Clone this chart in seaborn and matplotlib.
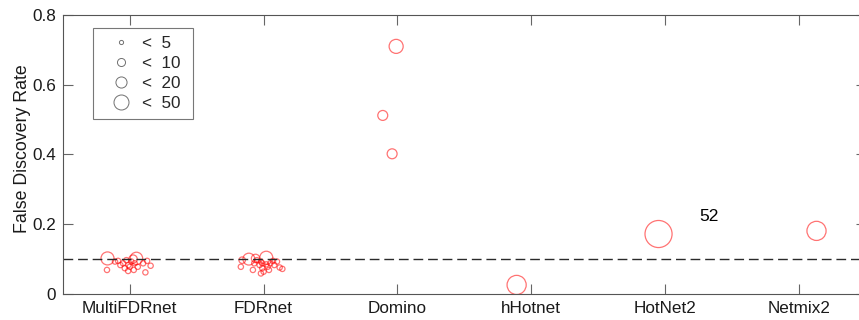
import numpy as np
import pandas as pd
import matplotlib
matplotlib.use("Agg")
import matplotlib.pyplot as plt
from matplotlib.lines import Line2D
import seaborn as sns

# Methods on the x axis
methods = ["MultiFDRnet", "FDRnet", "Domino", "hHotnet", "HotNet2", "Netmix2"]

# One entry per detected module: horizontal jitter, FDR, module size
multi_fdr = [0.102, 0.102, 0.100, 0.069, 0.093, 0.083, 0.097, 0.074, 0.066, 0.078,
             0.093, 0.078, 0.088, 0.095, 0.081, 0.062, 0.088, 0.095, 0.069, 0.083, 0.088]
multi_jit = [-0.166, 0.05, 0.025, -0.17, -0.11, -0.07, -0.025, -0.037, -0.012, 0.0,
             0.012, 0.06, 0.10, 0.13, 0.156, 0.117, -0.05, -0.087, 0.03, -0.01, 0.037]
multi_n = [12, 11, 5, 2, 2, 2, 2, 2, 2, 2, 2, 2, 2, 2, 2, 2, 2, 2, 2, 2, 2]

fdrnet_fdr = [0.104, 0.100, 0.102, 0.097, 0.078, 0.069, 0.083, 0.074, 0.064, 0.078, 0.088,
              0.083, 0.093, 0.076, 0.072, 0.093, 0.097, 0.095, 0.085, 0.069, 0.088, 0.088, 0.059]
fdrnet_jit = [0.02, -0.11, -0.06, -0.16, -0.17, -0.08, -0.03, -0.01, 0.0, 0.03, 0.05,
              0.08, 0.10, 0.12, 0.14, -0.02, -0.05, 0.07, 0.02, 0.04, -0.01, -0.07, -0.02]
fdrnet_n = [12, 10, 5, 3, 2, 2, 2, 2, 2, 2, 2, 2, 2, 2, 2, 2, 2, 2, 2, 2, 2, 2, 2]

domino_fdr = [0.710, 0.512, 0.402]
domino_jit = [-0.01, -0.11, -0.04]
domino_n = [14, 7, 7]

hhotnet_fdr = [0.026]
hhotnet_jit = [-0.11]
hhotnet_n = [26]

hotnet2_fdr = [0.172]
hotnet2_jit = [-0.05]
hotnet2_n = [52]

netmix2_fdr = [0.181]
netmix2_jit = [0.13]
netmix2_n = [26]

fdr_threshold = 0.1
size_bins = [5, 10, 20, 50]
ytick_vals = [0, 0.2, 0.4, 0.6, 0.8]
ytick_labels = ["0", "0.2", "0.4", "0.6", "0.8"]

groups = [
    (multi_jit, multi_fdr, multi_n),
    (fdrnet_jit, fdrnet_fdr, fdrnet_n),
    (domino_jit, domino_fdr, domino_n),
    (hhotnet_jit, hhotnet_fdr, hhotnet_n),
    (hotnet2_jit, hotnet2_fdr, hotnet2_n),
    (netmix2_jit, netmix2_fdr, netmix2_n),
]
rows = []
for i, (jit, fdr, n) in enumerate(groups):
    for j, f, s in zip(jit, fdr, n):
        rows.append({"pos": i + 1 + j, "fdr": f, "n": s})
df = pd.DataFrame(rows)

sns.set_style("ticks")
plt.rcParams["font.family"] = ["Liberation Sans", "DejaVu Sans"]

fig = plt.figure(figsize=(8.59, 3.20), dpi=100)
ax = fig.add_axes([0.0731, 0.08125, 0.9351, 0.8719])

sns.scatterplot(data=df, x="pos", y="fdr", size="n", sizes=(0, 380),
                size_norm=(0, 52), legend=False, ax=ax,
                marker="o", facecolors="none", edgecolor=(1, 0, 0, 0.55),
                linewidth=0.9)

ax.axhline(fdr_threshold, color="#2a2a2a", linestyle=(0, (7, 3.5)), linewidth=1.0, zorder=1)

# Annotate the large HotNet2 module with its size
ax.text(5 + 0.33, 0.222, str(hotnet2_n[0]), fontsize=12.5, ha="center", va="center",
        color="black")

ax.set_xlim(0.5, 6.5)
ax.set_ylim(0, 0.8)
ax.set_xticks(range(1, len(methods) + 1))
ax.set_xticklabels(methods, fontsize=12.3, color="#1a1a1a")
ax.set_yticks(ytick_vals)
ax.set_yticklabels(ytick_labels, fontsize=12.3, color="#1a1a1a")
ax.set_xlabel("")
ax.set_ylabel("False Discovery Rate", fontsize=12.8, color="#1a1a1a")
ax.yaxis.set_label_coords(-0.039, 0.52)

for sp in ax.spines.values():
    sp.set_visible(True)
    sp.set_color("#555555")
    sp.set_linewidth(0.8)
ax.tick_params(direction="in", length=7, width=0.8, color="#666666",
               top=True, right=True, pad=5)

# Size legend
ms = [3.0, 5.8, 8.0, 10.8]
handles = [Line2D([], [], linestyle="none", marker="o", markersize=m,
                  markerfacecolor="none", markeredgecolor="#707070", markeredgewidth=0.7)
           for m in ms]
labels = ["<  %d " % b for b in size_bins]
leg = ax.legend(handles, labels, loc="upper left", bbox_to_anchor=(0.0375, 0.953),
                borderaxespad=0, frameon=True, fancybox=False, fontsize=12.3,
                handletextpad=0.0, labelspacing=0.3, borderpad=0.45,
                handlelength=2.4, edgecolor="#555555")
leg.get_frame().set_linewidth(0.8)

fig.savefig("out.png", dpi=100)
